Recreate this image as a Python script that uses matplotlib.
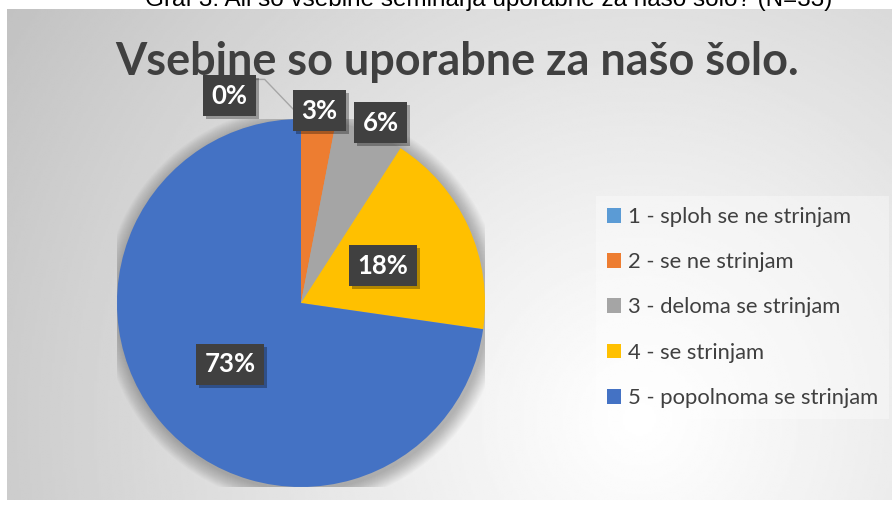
#!/usr/bin/env python3
"""
Pie chart: Vsebine so uporabne za naso solo (Graf 3, N=33)
"""

import numpy as np
import matplotlib
matplotlib.use('Agg')
import matplotlib.pyplot as plt
import matplotlib.patheffects as pe
from matplotlib.patches import Circle


caption = 'Graf 3: Ali so vsebine seminarja uporabne za našo šolo? (N=33)'
title = 'Vsebine so uporabne za našo šolo.'

categories = ['1 - sploh se ne strinjam', '2 - se ne strinjam',
              '3 - deloma se strinjam', '4 - se strinjam',
              '5 - popolnoma se strinjam']
counts = [0, 1, 2, 6, 24]
colors = ['#5B9BD5', '#ED7D31', '#A5A5A5', '#FFC000', '#4472C4']

# label placement (radius in pie units, extra angle in degrees)
label_r = [1.19, 1.05, 1.07, 0.49, 0.51]
label_dang = [19, 0, -2, 0, 0]

W, H = 894, 508
TXT = '#404040'


def px_box(x0, y0, x1, y1):
    """figure-fraction rect from pixel corners (y measured from top)"""
    return [x0 / W, 1 - y1 / H, (x1 - x0) / W, (y1 - y0) / H]


fig = plt.figure(figsize=(W / 100, H / 100), dpi=100)

# radial gradient background of the chart area
bg = fig.add_axes(px_box(7, 9, 892, 500))
nx, ny = 400, 220
xs = np.linspace(7, 892, nx)
ys = np.linspace(9, 500, ny)
xx, yy = np.meshgrid(xs, ys)
cx, cy = 640, 420
d = np.hypot(xx - cx, yy - cy)
d = d / d.max()
val = 1 - 0.24 * d ** 1.1
bg.imshow(val, cmap='gray', vmin=0, vmax=1, aspect='auto',
          extent=(0, 1, 0, 1), origin='upper', interpolation='bilinear')
bg.set_axis_off()

# caption (partly cut off at the top, as in the source document)
fig.text(489 / W, 1 - 6 / H, caption, ha='center', va='baseline',
         fontsize=17.5, family='Liberation Sans', color='black', zorder=5)

# title
fig.text(457 / W, 1 - 75 / H, title, ha='center', va='baseline',
         fontsize=32.4, fontweight='bold', family='Lato', color=TXT)

# pie
ax = fig.add_axes(px_box(117, 119, 485, 487))
ax.set_axis_off()
for k in range(1, 18):
    ax.add_patch(Circle((0.01, -0.015), 1 + 0.005 * k, color='black',
                        alpha=0.014, lw=0, zorder=0))
wedges, _ = ax.pie(counts, colors=colors, startangle=90, counterclock=False,
                   radius=1, wedgeprops=dict(linewidth=0))
for w in wedges:
    w.set_zorder(2)
ax.set_xlim(-1, 1)
ax.set_ylim(-1, 1)

total = sum(counts)
for i, w in enumerate(wedges):
    ang = np.deg2rad((w.theta1 + w.theta2) / 2 + label_dang[i])
    lx, ly = label_r[i] * np.cos(ang), label_r[i] * np.sin(ang)
    pct = f'{round(100 * counts[i] / total)}%'
    t = ax.text(lx, ly, pct, ha='center', va='center', color='white',
                fontsize=18.5, fontweight='bold', family='Lato', zorder=4,
                bbox=dict(boxstyle='square,pad=0.33', fc='#404040', ec='none'))
    t.get_bbox_patch().set_path_effects(
        [pe.withSimplePatchShadow(offset=(2, -2), shadow_rgbFace='black', alpha=0.3),
         pe.Normal()])
    if counts[i] == 0:
        # leader line from the label to the slice position
        ex, ey = np.cos(np.deg2rad(w.theta1)), np.sin(np.deg2rad(w.theta1))
        sx, sy = lx + 0.14, ly + 0.09
        ax.plot([sx, sx + 0.05, ex - 0.02, ex], [sy, sy, ey + 0.03, ey],
                color='#a6a6a6', lw=1, zorder=3, clip_on=False)

# legend
leg = fig.legend(wedges, categories, loc='upper left',
                 bbox_to_anchor=(585 / W, 1 - 185 / H),
                 prop=dict(family='Lato', size=15.8),
                 handlelength=0.65, handleheight=0.65, handletextpad=0.3,
                 labelspacing=1.15, borderpad=0.5, frameon=True,
                 fancybox=False, framealpha=0.35, facecolor='white',
                 edgecolor='none')
for txt in leg.get_texts():
    txt.set_color(TXT)

fig.savefig('out.png', dpi=100)
